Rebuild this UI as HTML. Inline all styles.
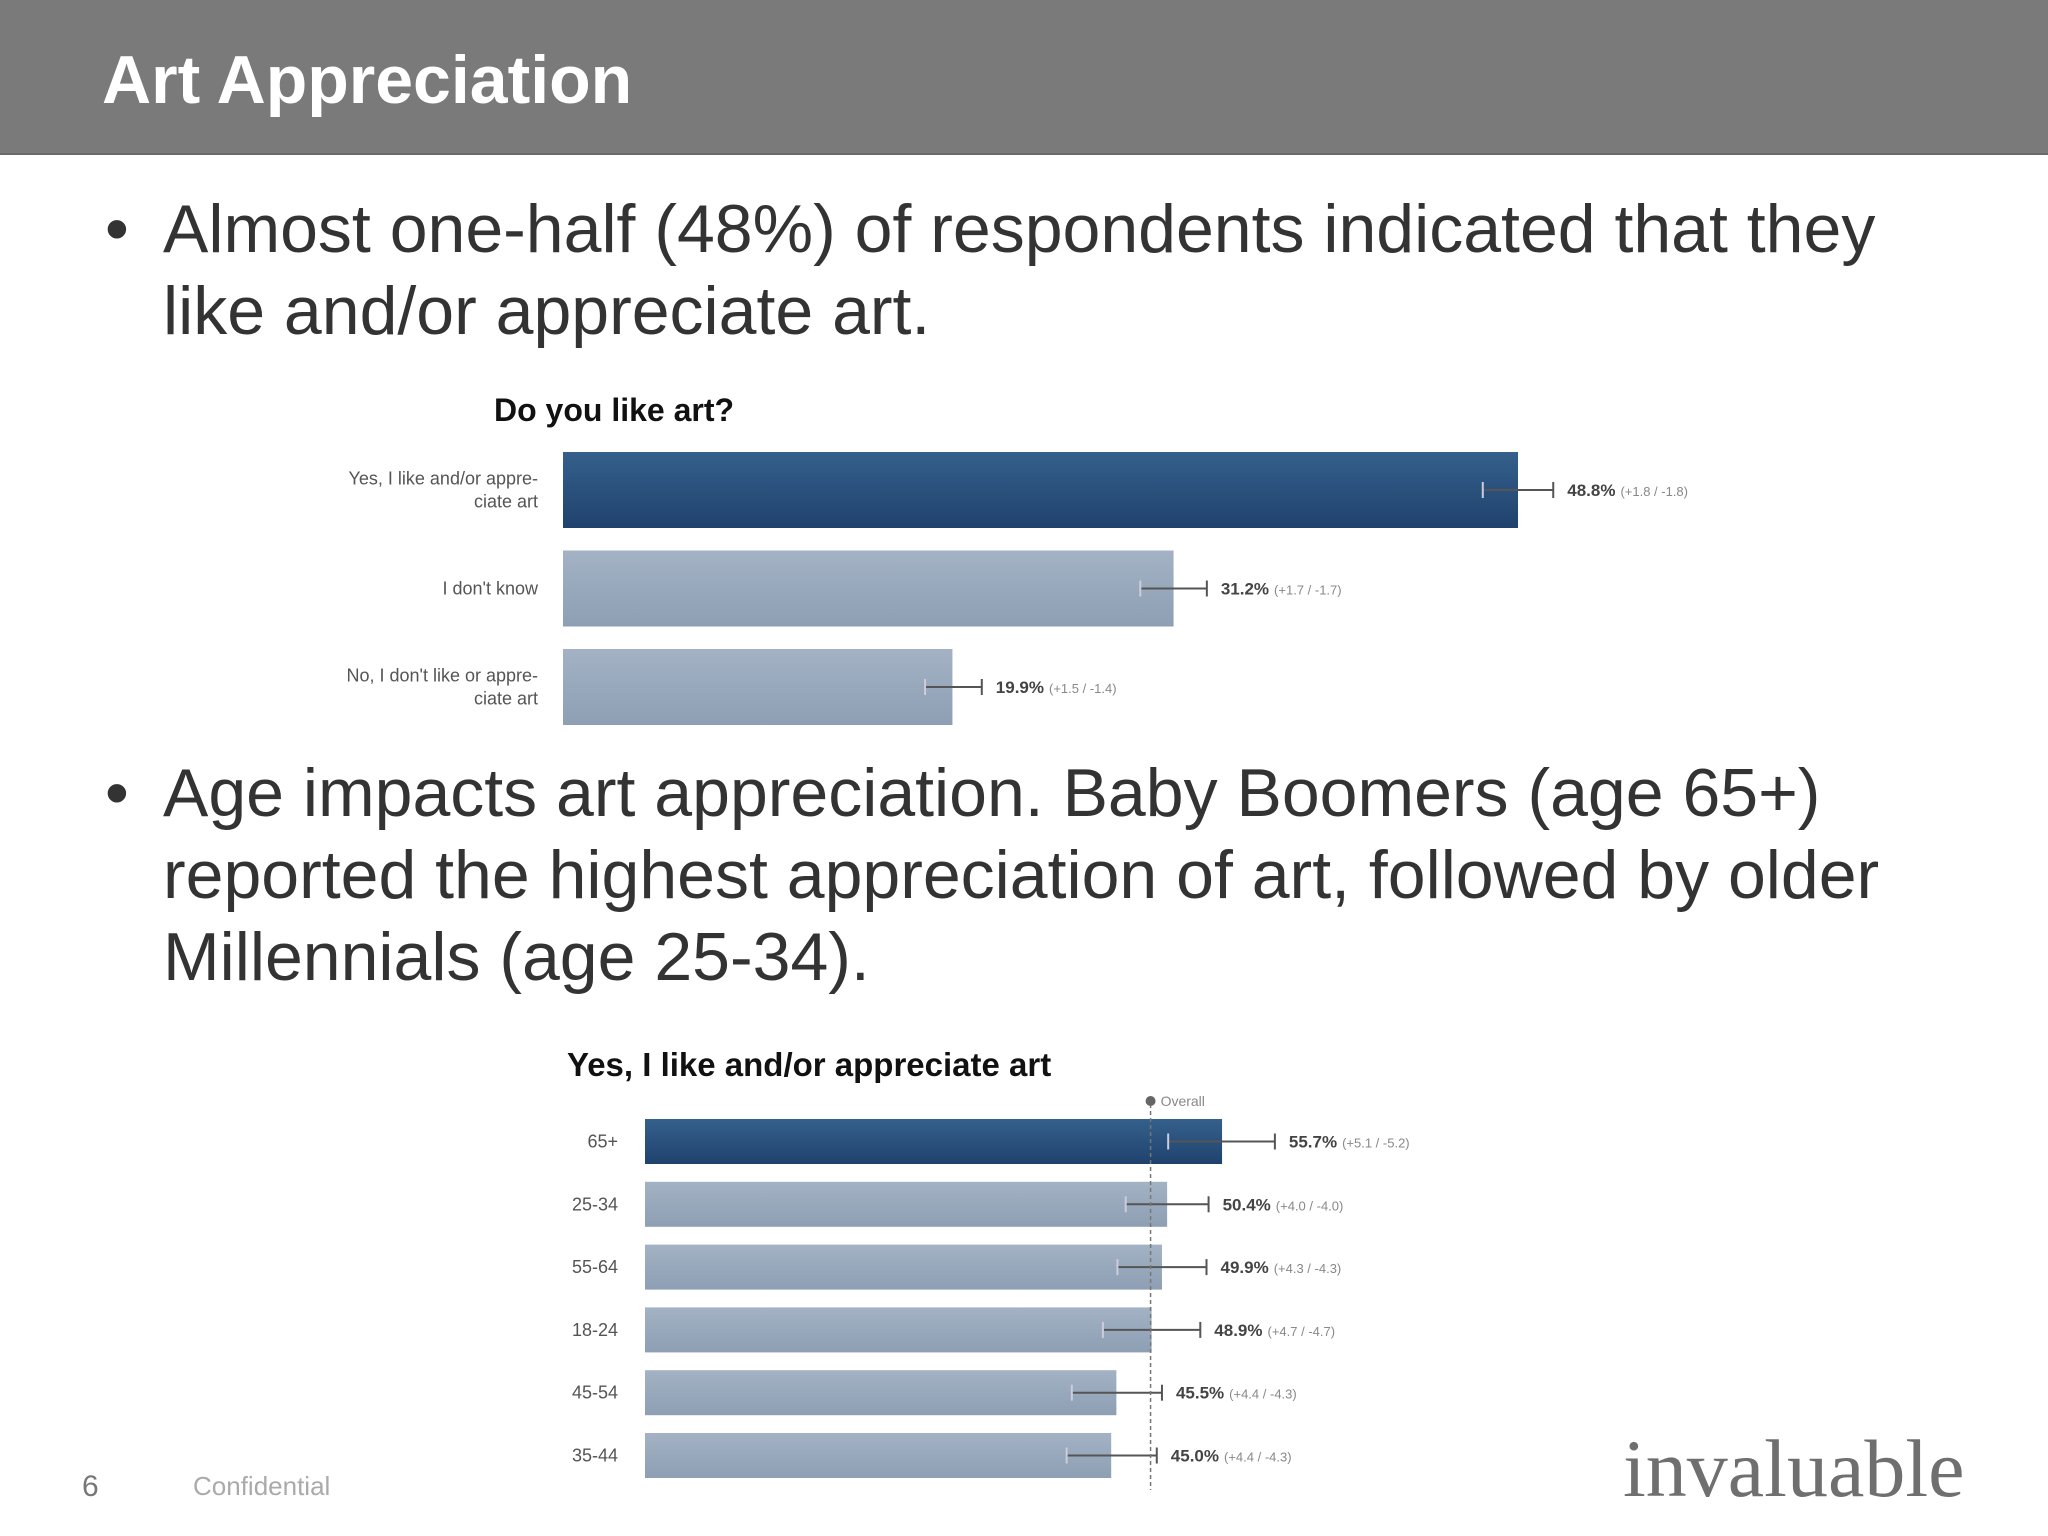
<!DOCTYPE html>
<html><head><meta charset="utf-8"><style>
body{margin:0;width:2048px;height:1536px;background:#fff;overflow:hidden;position:relative;font-family:"Liberation Sans",sans-serif}
.hdr{position:absolute;left:0;top:0;width:2048px;height:153px;background:#7a7a7a;border-bottom:2px solid #6a6a6a}
.ttl{position:absolute;left:102px;top:40px;font-size:68px;font-weight:bold;color:#fff;line-height:80px}
.bul{position:absolute;left:105px;font-size:68px;color:#333;line-height:82px;white-space:nowrap}
.bul span.dot{position:absolute;left:0}
.bul div{margin-left:58px}
</style></head><body>
<div class="hdr"></div>
<div class="ttl">Art Appreciation</div>
<div class="bul" style="top:188px"><span class="dot">•</span><div>Almost one-half (48%) of respondents indicated that they<br>like and/or appreciate art.</div></div>
<div class="bul" style="top:752px"><span class="dot">•</span><div>Age impacts art appreciation. Baby Boomers (age 65+)<br>reported the highest appreciation of art, followed by older<br>Millennials (age 25-34).</div></div>
<svg id="ch" width="2048" height="1536" style="position:absolute;left:0;top:0">
<defs>
<linearGradient id="dk" x1="0" y1="0" x2="0" y2="1"><stop offset="0" stop-color="#35608c"/><stop offset="1" stop-color="#1f426d"/></linearGradient>
<linearGradient id="lt" x1="0" y1="0" x2="0" y2="1"><stop offset="0" stop-color="#a3b2c4"/><stop offset="1" stop-color="#8e9fb4"/></linearGradient>
</defs>
<text x="494" y="421" font-size="32" font-weight="bold" fill="#111">Do you like art?</text>
<text x="567" y="1076" font-size="33" font-weight="bold" fill="#111">Yes, I like and/or appreciate art</text>
<g id="c1"></g><g id="c2"></g>
<text x="82" y="1496" font-size="30" fill="#777">6</text>
<text x="193" y="1495" font-size="26" fill="#aaa">Confidential</text>
<text x="1623" y="1496" font-size="82" font-family="Liberation Serif" fill="#6f6f6f">invaluable</text>
</svg>
<script>
const c1Labels=[["Yes, I like and/or appre-","ciate art"],["I don't know"],["No, I don't like or appre-","ciate art"]];
const c1Values=[48.8,31.2,19.9];
const c1Plus=[1.8,1.7,1.5];
const c1Minus=[1.8,1.7,1.4];
const c2Labels=["65+","25-34","55-64","18-24","45-54","35-44"];
const c2Values=[55.7,50.4,49.9,48.9,45.5,45.0];
const c2Plus=[5.1,4.0,4.3,4.7,4.4,4.4];
const c2Minus=[5.2,4.0,4.3,4.7,4.3,4.3];
const c2Overall=48.8;
const NS="http://www.w3.org/2000/svg";
function mk(p,t,a){const e=document.createElementNS(NS,t);for(const k in a)e.setAttribute(k,a[k]);p.appendChild(e);return e;}
function draw(g,o,labels,vals,pl,mi){
  const x=v=>o.x0+v*o.k;
  vals.forEach((v,i)=>{
    const y=o.y0+i*o.step;
    const r=mk(g,'rect',{x:o.x0,y:y,width:x(v)-o.x0,height:o.h,fill:i==0?'url(#dk)':'url(#lt)'});
    
    
    const cy=y+o.h/2;
    mk(g,'line',{x1:x(v-mi[i]),x2:x(v+pl[i]),y1:cy,y2:cy,stroke:'#555','stroke-width':2});
    mk(g,'line',{x1:x(v-mi[i]),x2:x(v-mi[i]),y1:cy-8,y2:cy+8,stroke:'#ccd','stroke-width':2});
    mk(g,'line',{x1:x(v+pl[i]),x2:x(v+pl[i]),y1:cy-8,y2:cy+8,stroke:'#555','stroke-width':2});
    const t=mk(g,'text',{x:x(v+pl[i])+14,y:cy+6,'font-size':17,fill:'#444'});
    
    
    const b=mk(t,'tspan',{'font-weight':'bold'});b.textContent=v.toFixed(1)+'%';
    const s=mk(t,'tspan',{'font-size':13,fill:'#888',dx:5});s.textContent='(+'+pl[i].toFixed(1)+' / -'+mi[i].toFixed(1)+')';
    const lab=Array.isArray(labels[i])?labels[i]:[labels[i]];
    lab.forEach((l,j)=>{
      const lt=mk(g,'text',{x:o.lx,y:cy+6+(j-(lab.length-1)/2)*23,'font-size':18,fill:'#555','text-anchor':'end'});
      
      
      lt.textContent=l;
    });
  });
  return x;
}
draw(document.getElementById('c1'),{x0:563,k:19.57,y0:452,step:98.5,h:76,lx:538},c1Labels,c1Values,c1Plus,c1Minus);
const g2=document.getElementById('c2');
const x2=draw(g2,{x0:645,k:10.36,y0:1119,step:62.8,h:45,lx:618},c2Labels,c2Values,c2Plus,c2Minus);
const ol=mk(g2,'line',{x1:x2(c2Overall),x2:x2(c2Overall),y1:1104,y2:1490,stroke:'#777','stroke-width':1.5,'stroke-dasharray':'4,3'});


mk(g2,'circle',{cx:x2(c2Overall),cy:1101,r:5,fill:'#666'});
const ot=mk(g2,'text',{x:x2(c2Overall)+10,y:1106,'font-size':14,fill:'#888'});


ot.textContent='Overall';
</script>
</body></html>
